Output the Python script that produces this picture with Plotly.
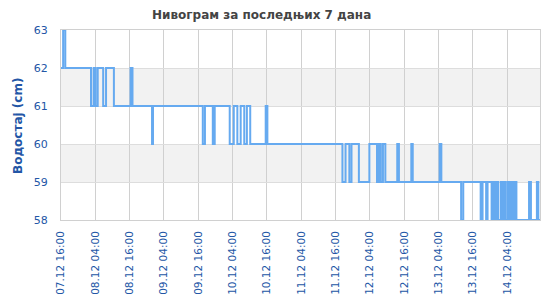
import plotly.graph_objects as go

# Level change points (time, water level in cm)
times = [
    "2024-12-07 16:00", "2024-12-07 16:45", "2024-12-07 17:30", "2024-12-08 02:30",
    "2024-12-08 03:25", "2024-12-08 04:05", "2024-12-08 04:50", "2024-12-08 06:45",
    "2024-12-08 07:45", "2024-12-08 10:30", "2024-12-08 16:20", "2024-12-08 17:00",
    "2024-12-08 23:50", "2024-12-09 00:10", "2024-12-09 17:35", "2024-12-09 18:20",
    "2024-12-09 21:05", "2024-12-09 21:45", "2024-12-10 03:00", "2024-12-10 04:25",
    "2024-12-10 05:40", "2024-12-10 06:50", "2024-12-10 08:05", "2024-12-10 09:00",
    "2024-12-10 10:10", "2024-12-10 15:35", "2024-12-10 16:10", "2024-12-11 18:25",
    "2024-12-11 19:30", "2024-12-11 20:50", "2024-12-11 21:35", "2024-12-12 00:10",
    "2024-12-12 03:50", "2024-12-12 06:30", "2024-12-12 07:10", "2024-12-12 07:50",
    "2024-12-12 08:35", "2024-12-12 09:25", "2024-12-12 13:35", "2024-12-12 14:10",
    "2024-12-12 18:30", "2024-12-12 19:00", "2024-12-13 04:25", "2024-12-13 05:00",
    "2024-12-13 11:55", "2024-12-13 12:40", "2024-12-13 18:45", "2024-12-13 19:25",
    "2024-12-13 20:40", "2024-12-13 21:10", "2024-12-13 22:35", "2024-12-13 23:05",
    "2024-12-13 23:40", "2024-12-14 00:20", "2024-12-14 00:50", "2024-12-14 01:45",
    "2024-12-14 02:15", "2024-12-14 02:45", "2024-12-14 03:25", "2024-12-14 04:10",
    "2024-12-14 04:40", "2024-12-14 05:20", "2024-12-14 05:55", "2024-12-14 06:35",
    "2024-12-14 07:15", "2024-12-14 11:40", "2024-12-14 12:20", "2024-12-14 14:25",
    "2024-12-14 14:55", "2024-12-14 15:30",
]
levels = [
    62, 63, 62, 61,
    62, 61, 62, 61,
    62, 61, 62, 61,
    60, 61, 60, 61,
    60, 61, 60, 61,
    60, 61, 60, 61,
    60, 61, 60, 59,
    60, 59, 60, 59,
    60, 59, 60, 59,
    60, 59, 60, 59,
    60, 59, 60, 59,
    58, 59, 58, 59,
    58, 59, 58, 59,
    58, 59, 58, 59,
    58, 59, 58, 59,
    58, 59, 58, 59,
    58, 59, 58, 59,
    58, 58,
]

tick_vals = [
    "2024-12-07 16:00", "2024-12-08 04:00", "2024-12-08 16:00", "2024-12-09 04:00",
    "2024-12-09 16:00", "2024-12-10 04:00", "2024-12-10 16:00", "2024-12-11 04:00",
    "2024-12-11 16:00", "2024-12-12 04:00", "2024-12-12 16:00", "2024-12-13 04:00",
    "2024-12-13 16:00", "2024-12-14 04:00",
]
tick_text = [
    "07.12 16:00", "08.12 04:00", "08.12 16:00", "09.12 04:00",
    "09.12 16:00", "10.12 04:00", "10.12 16:00", "11.12 04:00",
    "11.12 16:00", "12.12 04:00", "12.12 16:00", "13.12 04:00",
    "13.12 16:00", "14.12 04:00",
]
y_ticks = [58, 59, 60, 61, 62, 63]
bands = [(61, 62), (59, 60)]

title_text = "Нивограм за последњих 7 дана"
y_title = "Водостај (cm)"

blue_text = "#2356a6"
font_family = "DejaVu Sans"

fig = go.Figure()
fig.add_trace(go.Scatter(
    x=times, y=levels, mode="lines", line_shape="hv",
    line=dict(color="#66aaf0", width=2), hoverinfo="skip", showlegend=False,
))

for lo, hi in bands:
    fig.add_shape(type="rect", xref="paper", yref="y", x0=0, x1=1, y0=lo, y1=hi,
                  fillcolor="#f2f2f2", line_width=0, layer="below")

fig.update_layout(
    width=550, height=300,
    margin=dict(l=61, r=10, t=30, b=80, autoexpand=False),
    paper_bgcolor="white", plot_bgcolor="white",
    font=dict(family=font_family),
    showlegend=False,
    annotations=[
        dict(text="<b>" + title_text + "</b>", xref="paper", yref="paper",
             x=(261 - 61) / 479, y=(300 - 15 - 80) / 190, xanchor="center", yanchor="middle",
             showarrow=False, font=dict(size=12, color="#444444", family=font_family)),
        dict(text="<b>" + y_title + "</b>", xref="paper", yref="paper",
             x=(18 - 61) / 479, y=(300 - 126 - 80) / 190, xanchor="center", yanchor="middle",
             textangle=-90, showarrow=False,
             font=dict(size=12, color=blue_text, family=font_family)),
    ],
)

fig.update_xaxes(
    type="date", automargin=False,
    range=["2024-12-07 16:00", "2024-12-14 15:30"],
    tickvals=tick_vals, ticktext=tick_text, tickangle=-90,
    tickfont=dict(size=10.5, color=blue_text, family=font_family),
    showgrid=True, gridcolor="#d0d0d0", gridwidth=1,
    showline=True, linecolor="#d0d0d0", mirror=True,
    ticks="", ticklabelstandoff=6, zeroline=False,
)
fig.update_yaxes(
    range=[58, 63], tickvals=y_ticks, automargin=False,
    tickfont=dict(size=11, color=blue_text, family=font_family),
    showgrid=True, gridcolor="#dddddd", gridwidth=1,
    showline=True, linecolor="#d0d0d0", mirror=True,
    ticks="", ticklabelstandoff=10, zeroline=False,
)

fig.write_html("out.html")
